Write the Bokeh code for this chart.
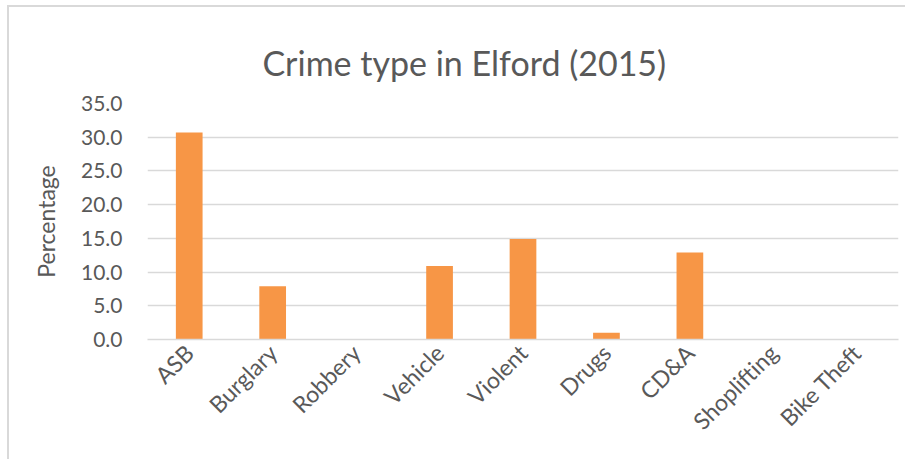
import math
from bokeh.plotting import figure
from bokeh.models import FactorRange, Range1d, FixedTicker, NumeralTickFormatter, ColumnDataSource
from bokeh.embed import file_html
from bokeh.resources import INLINE

categories = ["ASB", "Burglary", "Robbery", "Vehicle", "Violent", "Drugs", "CD&A", "Shoplifting", "Bike Theft"]
percentages = [30.7, 7.9, 0.0, 10.9, 14.9, 1.0, 12.9, 0.0, 0.0]
y_ticks = [0, 5, 10, 15, 20, 25, 30, 35]

FONT = "Lato"
GREY = "#595959"

src = ColumnDataSource(data=dict(cat=categories, val=percentages))

p = figure(width=898, height=454, output_backend="svg", toolbar_location=None,
           x_range=FactorRange(factors=categories, range_padding=0.0),
           y_range=Range1d(0, 35),
           title="Crime type in Elford (2015)",
           min_border_left=138, min_border_right=9, min_border_bottom=122, min_border_top=96)
p.styles = {"margin-left": "7px", "margin-top": "5px",
            "border-left": "2px solid #d9d9d9", "border-top": "2px solid #d9d9d9"}

p.vbar(x="cat", top="val", width=0.32, source=src, fill_color="#F79646", line_color=None)

p.title.align = "left"
p.title.offset = 115
p.title.vertical_align = "top"
p.title.text_font = FONT
p.title.text_font_size = "34px"
p.title.text_font_style = "normal"
p.title.text_color = GREY
p.title.standoff = 38

p.outline_line_color = None
p.background_fill_color = "white"
p.border_fill_color = "white"

p.xgrid.grid_line_color = None
p.ygrid.grid_line_color = "#d9d9d9"
p.ygrid.grid_line_width = 1.5

p.yaxis.ticker = FixedTicker(ticks=y_ticks)
p.yaxis.formatter = NumeralTickFormatter(format="0.0")
p.yaxis.axis_line_color = None
p.yaxis.major_tick_line_color = None
p.yaxis.minor_tick_line_color = None
p.yaxis.major_label_text_font = FONT
p.yaxis.major_label_text_font_size = "21px"
p.yaxis.major_label_text_color = GREY
p.yaxis.major_label_standoff = 19
p.yaxis.axis_label = "Percentage"
p.yaxis.axis_label_text_font = FONT
p.yaxis.axis_label_text_font_size = "23px"
p.yaxis.axis_label_text_font_style = "normal"
p.yaxis.axis_label_text_color = GREY
p.yaxis.axis_label_standoff = 18

p.xaxis.axis_line_color = "#d9d9d9"
p.xaxis.axis_line_width = 1.5
p.xaxis.major_tick_line_color = None
p.xaxis.minor_tick_line_color = None
p.xaxis.major_label_orientation = math.pi / 4
p.xaxis.major_label_text_font = FONT
p.xaxis.major_label_text_font_size = "23px"
p.xaxis.major_label_text_color = GREY
p.xaxis.major_label_standoff = 3

open("out.html", "w").write(file_html(p, INLINE))
